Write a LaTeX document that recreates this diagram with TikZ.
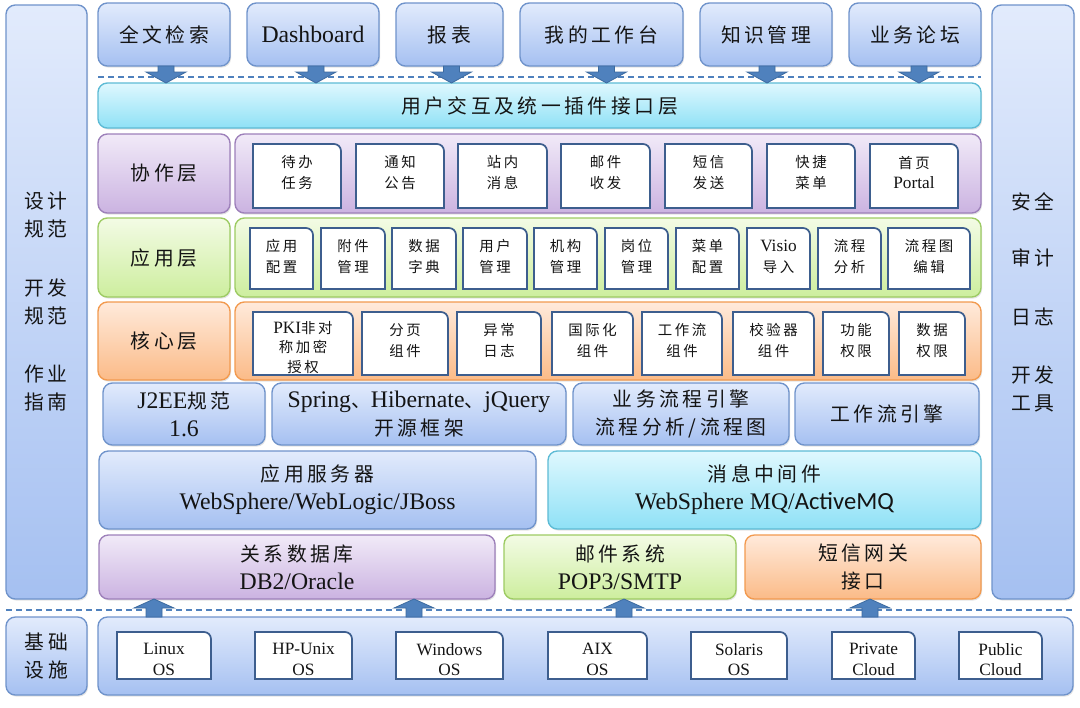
\documentclass[tikz,border=0pt]{standalone}
\usepackage{fontspec}
\setmainfont{Liberation Serif}[Scale=1.08]
\newfontfamily\cjk{Noto Sans CJK SC}[LetterSpace=18,Scale=0.9]
\newfontfamily\carl{Carlito}[Scale=1.12]
\usetikzlibrary{shadows,calc}
\newcommand\C[1]{{\cjk #1}}
\definecolor{bluetop}{HTML}{E2EBFC}
\definecolor{bluebot}{HTML}{A5C0F1}
\definecolor{bluebd}{HTML}{6F93CB}
\definecolor{cyantop}{HTML}{DFF8FE}
\definecolor{cyanbot}{HTML}{8FE1F6}
\definecolor{cyanbd}{HTML}{5DBBD5}
\definecolor{purtop}{HTML}{F1EAF8}
\definecolor{purbot}{HTML}{CBB3E1}
\definecolor{purbd}{HTML}{9D80BA}
\definecolor{grntop}{HTML}{F3FBE5}
\definecolor{grnbot}{HTML}{CDEE9E}
\definecolor{grnbd}{HTML}{9DCB63}
\definecolor{orgtop}{HTML}{FFEADB}
\definecolor{orgbot}{HTML}{FBBB88}
\definecolor{orgbd}{HTML}{F29A4F}
\definecolor{arrf}{HTML}{4F81BD}
\definecolor{arrbd}{HTML}{3C6A9F}
\definecolor{ibd}{HTML}{3D5E8E}
\definecolor{txt}{HTML}{141414}
\tikzset{
  lay/.style={rounded corners=7pt, line width=1pt, inner sep=0pt, outer sep=0pt,
    align=center, text=txt, font=\fontsize{16.5}{21}\selectfont,
    drop shadow={shadow xshift=0.8pt,shadow yshift=-1.2pt,opacity=0.22}},
  blu/.style={lay, draw=bluebd, top color=bluetop, bottom color=bluebot},
  cyn/.style={lay, draw=cyanbd, top color=cyantop, bottom color=cyanbot},
  pur/.style={lay, draw=purbd, top color=purtop, bottom color=purbot},
  grn/.style={lay, draw=grnbd, top color=grntop, bottom color=grnbot},
  org/.style={lay, draw=orgbd, top color=orgtop, bottom color=orgbot},
  coltext/.style={inner sep=0pt, align=center, text=txt, font=\fontsize{16.5}{21}\selectfont},
  iframe/.style={draw=ibd, line width=1.3pt, fill=white},
  itext/.style={inner sep=0pt, align=center, text=txt, font=\fontsize{12}{15.5}\selectfont},
  barrow/.style={fill=arrf, draw=arrbd, line width=0.6pt},
  dline/.style={draw=arrf, line width=1.5pt, dash pattern=on 4.5pt off 3pt},
}
% box by corners (pixel coordinates, y downward)
\newcommand\bx[7]{\node[#1, minimum width={(#5-#3)*0.75pt}, minimum height={(#6-#4)*0.75pt}] (#2) at ({(#3+#5)/2},{-(#4+#6)/2}) {#7};}
% inner white box: opts name x1 y1 x2 y2 dy text
\newcommand\ib[8]{%
  \filldraw[iframe] (#3,-#6) -- (#3,-#4) -- ({#5-7},-#4) arc[start angle=90,end angle=0,radius=7] -- (#5,-#6) -- cycle;
  \node[itext,#1] (#2) at ({(#3+#5)/2},{-(#4+#6)/2#7}) {#8};}
\begin{document}
\begin{tikzpicture}[x=0.75pt,y=0.75pt]
\useasboundingbox (0,0) rectangle (1080,-707);
\fill[white] (0,0) rectangle (1080,-707);

% side columns
\bx{blu}{leftcol}{6}{5}{87}{599}{}
\bx{blu}{rightcol}{992}{5}{1074}{599}{}
\node[coltext] (lg1) at (46,-215) {\C{设计}\\\C{规范}};
\node[coltext] (lg2) at (46,-302) {\C{开发}\\\C{规范}};
\node[coltext] (lg3) at (46,-388) {\C{作业}\\\C{指南}};
\node[coltext] (rg1) at (1033,-202) {\C{安全}};
\node[coltext] (rg2) at (1033,-258) {\C{审计}};
\node[coltext] (rg3) at (1033,-317) {\C{日志}};
\node[coltext] (rg4) at (1033,-389) {\C{开发}\\\C{工具}};

% top row
\bx{blu}{t1}{98}{3}{230}{66}{\C{全文检索}}
\bx{blu}{t2}{247}{3}{379}{66}{Dashboard}
\bx{blu}{t3}{396}{3}{503}{66}{\C{报表}}
\bx{blu}{t4}{520}{3}{683}{66}{\C{我的工作台}}
\bx{blu}{t5}{700}{3}{832}{66}{\C{知识管理}}
\bx{blu}{t6}{849}{3}{981}{66}{\C{业务论坛}}

% UI layer
\bx{cyn}{ui}{98}{83}{981}{128}{\C{用户交互及统一插件接口层}}

% collaboration layer
\bx{pur}{collab}{98}{134}{230}{213}{\C{协作层}}
\bx{pur}{collabc}{235}{134}{981}{213}{}
\ib{}{c1}{253}{144}{341}{208}{+3.5}{\C{待办}\\\C{任务}}
\ib{}{c2}{356}{144}{444}{208}{+3.5}{\C{通知}\\\C{公告}}
\ib{}{c3}{458}{144}{547}{208}{+3.5}{\C{站内}\\\C{消息}}
\ib{}{c4}{561}{144}{650}{208}{+3.5}{\C{邮件}\\\C{收发}}
\ib{}{c5}{665}{144}{752}{208}{+3.5}{\C{短信}\\\C{发送}}
\ib{}{c6}{767}{144}{855}{208}{+3.5}{\C{快捷}\\\C{菜单}}
\ib{}{c7}{870}{144}{958}{208}{+3.5}{\C{首页}\\Portal}

% application layer
\bx{grn}{app}{98}{218}{230}{297}{\C{应用层}}
\bx{grn}{appc}{235}{218}{981}{297}{}
\ib{}{a1}{250}{228}{313}{289}{+2}{\C{应用}\\\C{配置}}
\ib{}{a2}{321}{228}{385}{289}{+2}{\C{附件}\\\C{管理}}
\ib{}{a3}{392}{228}{456}{289}{+2}{\C{数据}\\\C{字典}}
\ib{}{a4}{463}{228}{527}{289}{+2}{\C{用户}\\\C{管理}}
\ib{}{a5}{534}{228}{597}{289}{+2}{\C{机构}\\\C{管理}}
\ib{}{a6}{605}{228}{668}{289}{+2}{\C{岗位}\\\C{管理}}
\ib{}{a7}{676}{228}{739}{289}{+2}{\C{菜单}\\\C{配置}}
\ib{}{a8}{747}{228}{810}{289}{+2}{Visio\\\C{导入}}
\ib{}{a9}{818}{228}{881}{289}{+2}{\C{流程}\\\C{分析}}
\ib{}{a10}{888}{228}{970}{289}{+2}{\C{流程图}\\\C{编辑}}

% core layer
\bx{org}{core}{98}{302}{230}{380}{\C{核心层}}
\bx{org}{corec}{235}{302}{981}{380}{}
\ib{font=\fontsize{12}{14.6}\selectfont}{k1}{253}{312}{353}{375}{-4}{PKI\C{非对}\\\C{称加密}\\\C{授权}}
\ib{}{k2}{362}{312}{448}{375}{+3}{\C{分页}\\\C{组件}}
\ib{}{k3}{457}{312}{541}{375}{+3}{\C{异常}\\\C{日志}}
\ib{}{k4}{552}{312}{633}{375}{+3}{\C{国际化}\\\C{组件}}
\ib{}{k5}{642}{312}{722}{375}{+3}{\C{工作流}\\\C{组件}}
\ib{}{k6}{733}{312}{814}{375}{+3}{\C{校验器}\\\C{组件}}
\ib{}{k7}{823}{312}{889}{375}{+3}{\C{功能}\\\C{权限}}
\ib{}{k8}{899}{312}{965}{375}{+3}{\C{数据}\\\C{权限}}

% frameworks row
\bx{blu}{j2ee}{103}{383}{265}{445}{J2EE\C{规范}\\1.6}
\bx{blu}{spring}{272}{383}{566}{445}{Spring\C{、}Hibernate\C{、}jQuery\\\C{开源框架}}
\bx{blu}{bpm}{573}{383}{789}{445}{\C{业务流程引擎}\\\C{流程分析/流程图}}
\bx{blu}{wf}{795}{383}{979}{445}{\C{工作流引擎}}

% middleware row
\bx{blu}{appsrv}{99}{451}{536}{529}{\C{应用服务器}\\WebSphere/WebLogic/JBoss}
\bx{cyn}{mq}{548}{451}{981}{529}{\C{消息中间件}\\WebSphere MQ/{\carl ActiveMQ}}

% data row
\bx{pur}{db}{99}{535}{495}{599}{\C{关系数据库}\\DB2/Oracle}
\bx{grn}{mail}{504}{535}{736}{599}{\C{邮件系统}\\POP3/SMTP}
\bx{org}{sms}{745}{535}{981}{599}{\C{短信网关}\\\C{接口}}

% infrastructure
\bx{blu}{infra}{6}{617}{87}{695}{\C{基础}\\\C{设施}}
\bx{blu}{infrac}{98}{617}{1073}{695}{}
\ib{}{o1}{117}{632}{211}{679}{-4}{Linux\\OS}
\ib{}{o2}{255}{632}{352}{679}{-4}{HP-Unix\\OS}
\ib{}{o3}{396}{632}{503}{679}{-4}{Windows\\OS}
\ib{}{o4}{548}{632}{647}{679}{-4}{AIX\\OS}
\ib{}{o5}{691}{632}{787}{679}{-4}{Solaris\\OS}
\ib{}{o6}{832}{632}{915}{679}{-4}{Private\\Cloud}
\ib{}{o7}{959}{632}{1042}{679}{-4}{Public\\Cloud}

% dashed separators
\coordinate (d1a) at (98,-77);
\coordinate (d1b) at (981,-77);
\coordinate (d2a) at (6,-610);
\coordinate (d2b) at (1073,-610);
\draw[dline] (d1a) -- (d1b);
\draw[dline] (d2a) -- (d2b);

% down block arrows: top row -> UI layer
\foreach \n/\dx in {t1/2,t2/3,t3/2,t4/5,t5/1,t6/4}{
  \filldraw[barrow] ($(\n.south)+(\dx,0)$) ++(-8,0) -- ++(0,-6) -- ++(-12,0) -- ++(20,-11) -- ++(20,11) -- ++(-12,0) -- ++(0,6) -- cycle;
}
% up block arrows: infrastructure -> data row
\foreach \n/\dx in {db/-143,db/117,mail/4,sms/7}{
  \filldraw[barrow] ($(\n.south)+(\dx,0)$) -- ++(-20,-9) -- ++(12,0) -- ++(0,-9) -- ++(16,0) -- ++(0,9) -- ++(12,0) -- cycle;
}
\end{tikzpicture}
\end{document}
